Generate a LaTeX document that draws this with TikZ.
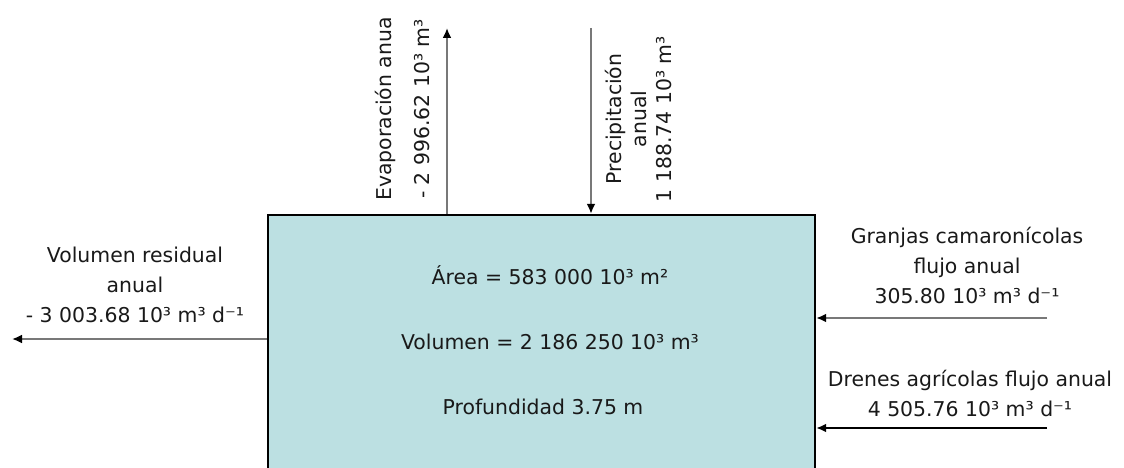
\documentclass[tikz,border=0pt]{standalone}
\usepackage{fontspec}
\setmainfont{DejaVu Sans}
\usetikzlibrary{arrows.meta}
\definecolor{lakefill}{RGB}{188,224,226}
\definecolor{flowgray}{RGB}{120,120,120}
\definecolor{txt}{RGB}{25,25,25}
\begin{document}
\begin{tikzpicture}[x=1pt,y=1pt,
  lbl/.style={font=\fontsize{20.4}{30}\selectfont, text=txt, align=center, inner sep=0pt},
  flow/.style={draw=flowgray, line width=2.4pt, -{Latex[length=10pt,width=9pt,color=black]}},
  lake/.style={draw=black, line width=2.4pt, fill=lakefill, minimum width=547pt, minimum height=300pt, inner sep=0pt}
  ]
\useasboundingbox (0,0) rectangle (1124,467);
\clip (0,0) rectangle (1124,467);
\node[lake] (lake) at (541.5,102) {};
\coordinate (evtop) at (447,439);
\coordinate (prtop) at (591,439);
\coordinate (lefttip) at (12,128);
\coordinate (grstart) at (1047,149);
\coordinate (drstart) at (1047,39);
\draw[flow] (lake.north -| evtop) -- (evtop);
\draw[flow] (prtop) -- (lake.north -| prtop);
\draw[flow] (lake.west |- lefttip) -- (lefttip);
\draw[flow] (grstart) -- (lake.east |- grstart);
\draw[flow, draw=black] (drstart) -- (lake.east |- drstart);
\node[lbl, rotate=90] (evlbl) at (402,358) {Evaporación anua\\[8pt]- 2 996.62 10³ m³};
\node[lbl, rotate=90, font=\fontsize{20.4}{25}\selectfont] (prlbl) at (638,348) {Precipitación\\anual\\1 188.74 10³ m³};
\node[lbl] (reslbl) at (135,182) {Volumen residual\\anual\\- 3 003.68 10³ m³ d⁻¹};
\node[lbl] (grlbl) at (967,202) {Granjas camaronícolas\\flujo anual\\305.80 10³ m³ d⁻¹};
\node[lbl] (drlbl) at (970,74) {Drenes agrícolas flujo anual\\4 505.76 10³ m³ d⁻¹};
\node[lbl] (area) at (550,192) {Área = 583 000 10³ m²};
\node[lbl] (vol) at (550,125) {Volumen = 2 186 250 10³ m³};
\node[lbl] (prof) at (543,60) {Profundidad 3.75 m};
\end{tikzpicture}
\end{document}
